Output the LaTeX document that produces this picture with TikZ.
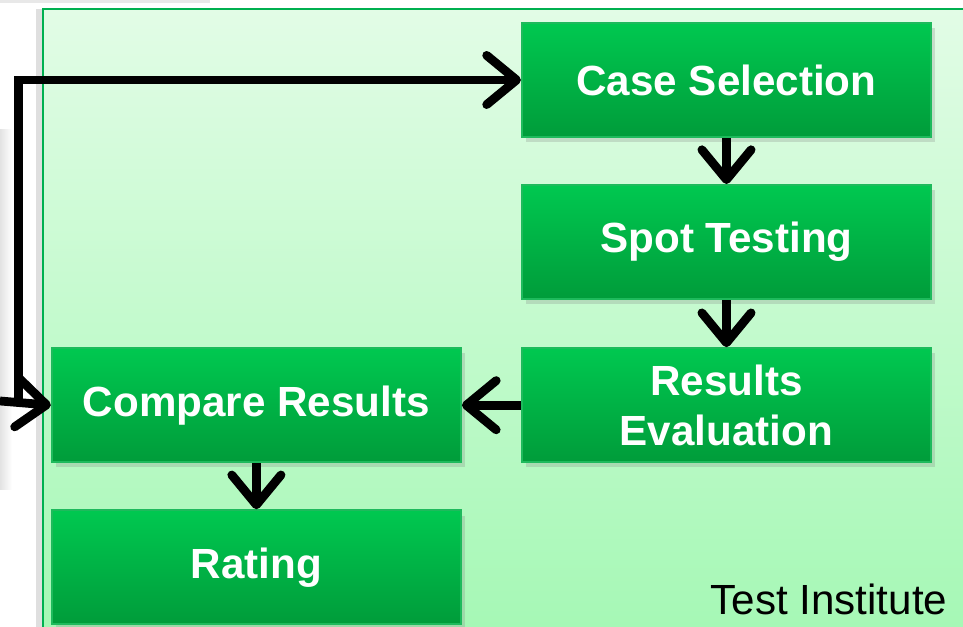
\documentclass[tikz,border=0pt]{standalone}
\usepackage{fontspec}
\setmainfont{Liberation Sans}
\usetikzlibrary{arrows.meta,positioning,shadows}
\definecolor{panelTop}{RGB}{226,252,230}
\definecolor{panelBot}{RGB}{164,248,180}
\definecolor{panelEdge}{RGB}{0,176,80}
\definecolor{stageTop}{RGB}{0,200,80}
\definecolor{stageBot}{RGB}{0,156,58}
\definecolor{stageEdge}{RGB}{30,186,92}

\begin{document}
\begin{tikzpicture}[node distance=0.46cm and 0.59cm, every node/.style={font=\fontsize{12}{14.2}\selectfont}]
\tikzset{stage/.style={draw=stageEdge, line width=0.6pt, top color=stageTop, bottom color=stageBot, text=white, font=\fontsize{12}{14.2}\selectfont\bfseries, minimum width=4.09cm, minimum height=1.14cm, align=center, drop shadow={opacity=0.25, shadow xshift=1.2pt, shadow yshift=-1.5pt}}}
\tikzset{flow/.style={line width=2.5pt, -{Straight Barb[length=8.5pt,width=14pt,round]}}}
\useasboundingbox (0,0) rectangle (9.63,6.27);
\clip (0,0) rectangle (9.63,6.27);
\fill[left color=gray!22, right color=white] (0,1.37) rectangle (0.12,4.97);
\fill[gray!18] (0,6.24) rectangle (2.1,6.27);
\draw[panelEdge, line width=0.6pt, top color=panelTop, bottom color=panelBot, drop shadow={opacity=0.25, shadow xshift=-2pt, shadow yshift=0pt}] (0.43,6.18) rectangle (9.9,-0.2);
\node[stage] (case) at (7.265,5.47) {Case Selection};
\node[stage, below=of case] (spot) {Spot Testing};
\node[stage, below=0.47cm of spot] (evalu) {Results\\Evaluation};
\node[stage, left=of evalu] (compare) {Compare Results};
\node[stage, below=of compare] (rating) {Rating};
\node[anchor=base east, inner sep=0pt] (inst) at (9.48,0.12) {Test Institute};
\coordinate (feed) at (0,2.26);
\coordinate (loop) at (0.185,2.26);
\draw[flow] (case) -- (spot);
\draw[flow] (spot) -- (evalu);
\draw[flow] (evalu) -- (compare);
\draw[flow] (compare) -- (rating);
\draw[flow] (feed) -- (compare.west);
\draw[flow] (loop) |- (case.west);
\end{tikzpicture}
\end{document}
